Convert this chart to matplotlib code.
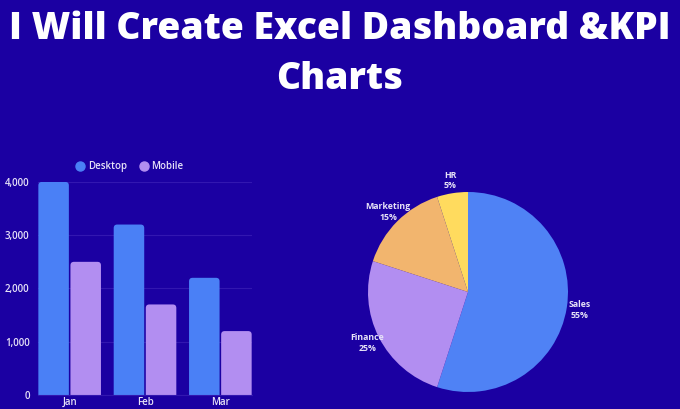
import matplotlib
matplotlib.use("Agg")
import matplotlib.pyplot as plt
from matplotlib.patches import FancyBboxPatch
from matplotlib.lines import Line2D
import numpy as np

months = ["Jan", "Feb", "Mar"]
desktop = [4000, 3200, 2200]
mobile = [2500, 1700, 1200]
yticks = [0, 1000, 2000, 3000, 4000]
ytick_labels = ["0", "1,000", "2,000", "3,000", "4,000"]

depts = ["Sales", "Finance", "Marketing", "HR"]
shares = [55, 25, 15, 5]

BG = "#1b00a2"
C_DESK = "#4a80f6"
C_MOB = "#b28ef1"
PIE_COLORS = ["#4f82f5", "#b28ef1", "#f2b56e", "#ffdb5e"]
TXT = "#e6e2f7"

plt.rcParams['font.family'] = ['Open Sans', 'DejaVu Sans']

fig = plt.figure(figsize=(6.8, 4.09), dpi=100, facecolor=BG)

fig.text(0.5, 0.928, "I Will Create Excel Dashboard &KPI", ha="center", va="center",
         color="white", fontsize=26.8, fontweight="heavy")
fig.text(0.5, 0.805, "Charts", ha="center", va="center",
         color="white", fontsize=26.8, fontweight="heavy")

# Bar chart
ax = fig.add_axes([0.0559, 0.0342, 0.3147, 0.521])
ax.set_facecolor(BG)
x = np.arange(len(months))
w = 0.405
b1 = ax.bar(x - 0.213, desktop, width=w, color=C_DESK, zorder=2)
b2 = ax.bar(x + 0.213, mobile, width=w, color=C_MOB, zorder=2)
# rounded tops
ax_w_px = 0.3147 * 680
ax_h_px = 0.521 * 409
xu_per_px = 2.84 / ax_w_px
yu_per_px = 4000 / ax_h_px
r_px = 3.5
for bars in (b1, b2):
    for p in bars:
        x0, y0 = p.get_x(), p.get_y()
        bw, bh = p.get_width(), p.get_height()
        fb = FancyBboxPatch((x0, y0 - 10 * yu_per_px), bw, bh + 10 * yu_per_px,
                            boxstyle=f"round,pad=0,rounding_size={r_px * xu_per_px}",
                            mutation_aspect=yu_per_px / xu_per_px,
                            facecolor=p.get_facecolor(), edgecolor="none", zorder=2)
        p.set_visible(False)
        ax.add_patch(fb)
ax.set_xlim(-0.42, 2.42)
ax.set_ylim(0, 4000)
ax.set_yticks(yticks)
ax.set_yticklabels(ytick_labels, fontweight="semibold")
ax.set_xticks(x)
ax.set_xticklabels(months, fontweight="semibold")
ax.grid(axis="y", color="#3217b0", linewidth=0.8, zorder=0)
for s in ["top", "right", "left"]:
    ax.spines[s].set_visible(False)
ax.spines["bottom"].set_color("#3217b0")
ax.tick_params(axis="both", length=0, colors=TXT, labelsize=7)
ax.tick_params(axis="y", pad=6)
ax.tick_params(axis="x", pad=1.5)
handles = [Line2D([], [], marker="o", linestyle="", markersize=6.5, color=C_DESK),
           Line2D([], [], marker="o", linestyle="", markersize=6.5, color=C_MOB)]
ax.legend(handles, ["Desktop", "Mobile"], loc="lower center", bbox_to_anchor=(0.43, 1.005),
          ncol=2, frameon=False, fontsize=7, handlelength=0.8, columnspacing=1.4,
          handletextpad=0.35, labelcolor=TXT, prop=dict(weight="semibold", size=7))

# Pie chart
pax = fig.add_axes([368 / 680, (409 - 392) / 409, 200 / 680, 200 / 409])
pax.set_facecolor(BG)
labels = [f"{d}\n{s}%" for d, s in zip(depts, shares)]
wedges, texts = pax.pie(shares, labels=labels, colors=PIE_COLORS, startangle=90,
                        counterclock=False, labeldistance=1.13,
                        textprops=dict(color=TXT, fontsize=6.3, fontweight="bold",
                                       linespacing=1.25))
for t in texts:
    t.set_ha("center")
    t.set_va("center")
    t.set_clip_on(False)
pax.set_xlim(-1, 1)
pax.set_ylim(-1, 1)
pax.set_aspect("equal")

fig.savefig("out.png", dpi=100, facecolor=BG)
